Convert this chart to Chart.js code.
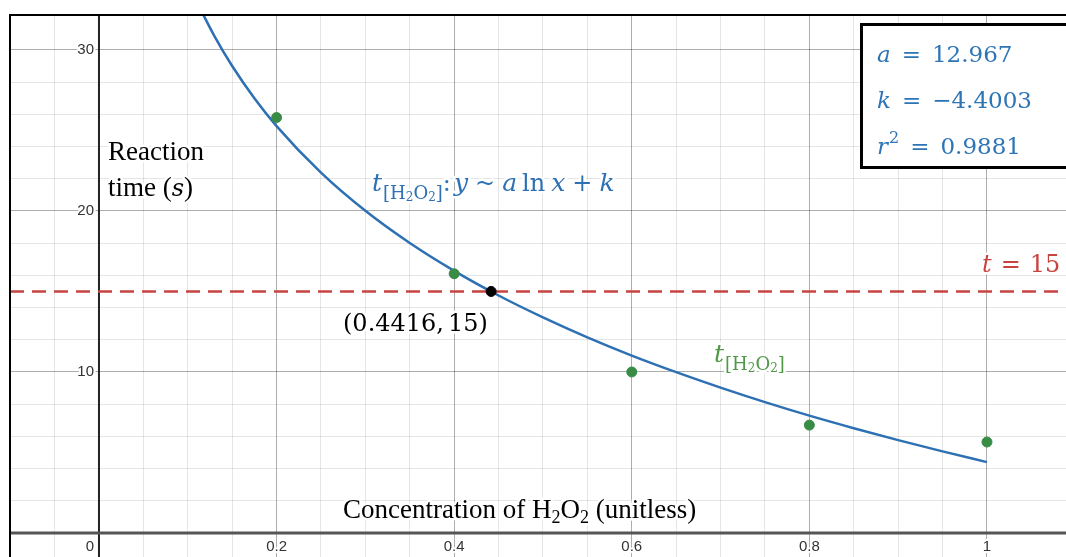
<!DOCTYPE html>
<html><head><meta charset="utf-8">
<script src="https://cdn.jsdelivr.net/npm/chart.js@4/dist/chart.umd.min.js"></script>
<style>html,body{margin:0;padding:0;background:#fff;overflow:hidden}canvas{display:block}</style>
</head><body><canvas id="c" width="1066" height="557"></canvas>
<script>
// ---- data ----
const concentrations = [0.2, 0.4, 0.6, 0.8, 1.0];
const reactionTimes = [25.8, 16.1, 10.0, 6.7, 5.65];
const fitX = [0.115, 0.13, 0.15, 0.175, 0.2, 0.25, 0.3, 0.35, 0.4, 0.45, 0.5, 0.55, 0.6, 0.65, 0.7, 0.75, 0.8, 0.85, 0.9, 0.95, 1.0];
const fitY = [32.45, 30.86, 29.00, 27.00, 25.27, 22.38, 20.01, 18.01, 16.28, 14.75, 13.39, 12.15, 11.02, 9.99, 9.03, 8.13, 7.29, 6.51, 5.77, 5.07, 4.40];
const thresholdT = 15;
const intersectX = [0.4416];
const intersectY = [15];
const xTickValues = [0, 0.2, 0.4, 0.6, 0.8, 1];
const xTickLabels = ["0", "0.2", "0.4", "0.6", "0.8", "1"];
const yTickValues = [10, 20, 30];
const yTickLabels = ["10", "20", "30"];
const xRange = [-0.1002, 1.089];
const yRange = [-1.49, 32.17];

const BLUE = '#2d70b3', GREEN = '#388c46', RED = '#c74440';
const BOXBLUE = '#2e75b6';

function rich(ctx, x, y, segs, color, halo) {
  ctx.save();
  ctx.textAlign = 'left'; ctx.textBaseline = 'alphabetic';
  let cx = x; const pos = [];
  for (const s of segs) { ctx.font = s.f; pos.push(cx); cx += ctx.measureText(s.t).width + (s.sp || 0); }
  if (halo) {
    ctx.strokeStyle = '#fff'; ctx.lineWidth = 5; ctx.lineJoin = 'round';
    segs.forEach((s, i) => { ctx.font = s.f; ctx.strokeText(s.t, pos[i], y + (s.dy || 0)); });
  }
  ctx.fillStyle = color;
  segs.forEach((s, i) => { ctx.font = s.f; ctx.fillText(s.t, pos[i], y + (s.dy || 0)); });
  ctx.restore();
  return cx;
}

const SER = '"Liberation Serif", "Times New Roman", serif';
const MATH = '"DejaVu Serif", serif';
const f = (sz, it) => (it ? 'italic ' : '') + sz + 'px ' + SER;
const m = (sz, it) => (it ? 'italic ' : '') + sz + 'px ' + MATH;

const deco = {
  id: 'deco',
  beforeDatasetsDraw(chart) {
    const { ctx, chartArea: a, scales: { x, y } } = chart;
    const x0 = x.getPixelForValue(0), y0 = y.getPixelForValue(0);
    ctx.save();
    ctx.strokeStyle = '#222'; ctx.lineWidth = 2;
    ctx.beginPath(); ctx.moveTo(x0, a.top); ctx.lineTo(x0, a.bottom); ctx.stroke();
    ctx.strokeStyle = '#555'; ctx.lineWidth = 3;
    ctx.beginPath(); ctx.moveTo(a.left, y0); ctx.lineTo(a.right, y0); ctx.stroke();
    ctx.font = '15px "Liberation Sans", Arial, sans-serif';
    ctx.lineJoin = 'round'; ctx.textBaseline = 'middle';
    const lab = (t, px, py, al) => {
      ctx.textAlign = al;
      ctx.strokeStyle = '#fff'; ctx.lineWidth = 4; ctx.strokeText(t, px, py);
      ctx.fillStyle = '#333'; ctx.fillText(t, px, py);
    };
    xTickValues.forEach((v, i) => {
      if (v === 0) lab(xTickLabels[i], x0 - 5, y0 + 14, 'right');
      else lab(xTickLabels[i], x.getPixelForValue(v), y0 + 14, 'center');
    });
    yTickValues.forEach((v, i) => lab(yTickLabels[i], x0 - 5, y.getPixelForValue(v), 'right'));
    ctx.restore();
  },
  afterDatasetsDraw(chart) {
    const { ctx, chartArea: a } = chart;
    ctx.save();
    ctx.strokeStyle = '#000'; ctx.lineWidth = 2;
    ctx.beginPath(); ctx.moveTo(a.left, a.bottom); ctx.lineTo(a.left, a.top); ctx.lineTo(a.right, a.top); ctx.stroke();
    ctx.fillStyle = '#fff'; ctx.fillRect(861, 24, 220, 144);
    ctx.strokeStyle = '#000'; ctx.lineWidth = 3; ctx.strokeRect(861.5, 24.5, 220, 143);
    ctx.restore();

    // box text
    rich(ctx, 877, 62, [{ t: 'a', f: m(23, true), sp: 11 }, { t: '=', f: m(23), sp: 11 }, { t: '12.967', f: m(23) }], BOXBLUE);
    rich(ctx, 877, 108, [{ t: 'k', f: m(23, true), sp: 11 }, { t: '=', f: m(23), sp: 11 }, { t: '\u22124.4003', f: m(23) }], BOXBLUE);
    rich(ctx, 877, 154, [{ t: 'r', f: m(23, true), sp: 1 }, { t: '2', f: m(16), dy: -11, sp: 11 }, { t: '=', f: m(23), sp: 11 }, { t: '0.9881', f: m(23) }], BOXBLUE);

    // axis titles
    rich(ctx, 108, 160, [{ t: 'Reaction', f: f(27) }], '#000', true);
    rich(ctx, 108, 196, [{ t: 'time (', f: f(27) }, { t: 's', f: m(24, true) }, { t: ')', f: f(27) }], '#000', true);
    rich(ctx, 343, 518, [{ t: 'Concentration of H', f: f(27) }, { t: '2', f: f(18), dy: 5 }, { t: 'O', f: f(27) }, { t: '2', f: f(18), dy: 5 }, { t: ' (unitless)', f: f(27) }], '#000', true);

    const sub = () => [
      { t: '[H', f: m(18), dy: 8 }, { t: '2', f: m(12), dy: 10 }, { t: 'O', f: m(18), dy: 8 }, { t: '2', f: m(12), dy: 10 }, { t: ']', f: m(18), dy: 8 }
    ];
    rich(ctx, 372, 191, [{ t: 't', f: m(25, true), sp: 1 }, ...sub(), { t: ':', f: m(24), sp: 3 }, { t: 'y', f: m(25, true), sp: 7 },
      { t: '~', f: m(24), sp: 7 }, { t: 'a', f: m(25, true), sp: 5 }, { t: 'ln', f: m(24), sp: 6 }, { t: 'x', f: m(25, true), sp: 7 },
      { t: '+', f: m(24), sp: 7 }, { t: 'k', f: m(25, true) }], BLUE, true);
    rich(ctx, 714, 362, [{ t: 't', f: m(25, true), sp: 1 }, ...sub()], '#4f9a45', true);
    rich(ctx, 343, 331, [{ t: '(0.4416,', f: m(24), sp: 4 }, { t: '15)', f: m(24) }], '#000', true);
    rich(ctx, 982, 272, [{ t: 't', f: m(24, true), sp: 9 }, { t: '=', f: m(24), sp: 9 }, { t: '15', f: m(24) }], RED, true);
  }
};

const gridColor = (major) => (c) => major(c.tick.value) ? 'rgba(0,0,0,0.32)' : 'rgba(0,0,0,0.10)';
const isMultiple = (v, s) => Math.abs(v / s - Math.round(v / s)) < 1e-6;

new Chart(document.getElementById('c'), {
  type: 'scatter',
  data: {
    datasets: [
      {
        type: 'line', label: 't = 15',
        data: [{ x: xRange[0], y: thresholdT }, { x: xRange[1], y: thresholdT }],
        borderColor: RED, borderWidth: 2.5, borderDash: [14, 8], pointRadius: 0, order: 4
      },
      {
        type: 'line', label: 'fit',
        data: fitX.map((v, i) => ({ x: v, y: fitY[i] })),
        borderColor: BLUE, borderWidth: 2.5, pointRadius: 0, cubicInterpolationMode: 'monotone', order: 3
      },
      {
        label: 'data',
        data: concentrations.map((v, i) => ({ x: v, y: reactionTimes[i] })),
        backgroundColor: GREEN, borderColor: GREEN, pointRadius: 5, order: 2
      },
      {
        label: 'intersection',
        data: intersectX.map((v, i) => ({ x: v, y: intersectY[i] })),
        backgroundColor: '#000', borderColor: '#000', pointRadius: 5, order: 1
      }
    ]
  },
  options: {
    responsive: false, devicePixelRatio: 1, animation: false,
    layout: { autoPadding: false, padding: { left: 10, top: 15, right: 0, bottom: 0 } },
    plugins: { legend: { display: false }, tooltip: { enabled: false } },
    scales: {
      x: {
        type: 'linear', min: xRange[0], max: xRange[1],
        ticks: { display: false, stepSize: 0.05 },
        border: { display: false },
        grid: { drawTicks: false, color: gridColor(v => isMultiple(v, 0.2)), lineWidth: (c) => isMultiple(c.tick.value, 0.05) ? 1 : 0 }
      },
      y: {
        type: 'linear', min: yRange[0], max: yRange[1],
        ticks: { display: false, stepSize: 2 },
        border: { display: false },
        grid: { drawTicks: false, color: gridColor(v => isMultiple(v, 10)), lineWidth: (c) => isMultiple(c.tick.value, 2) ? 1 : 0 }
      }
    }
  },
  plugins: [deco]
});
</script>
</body></html>
